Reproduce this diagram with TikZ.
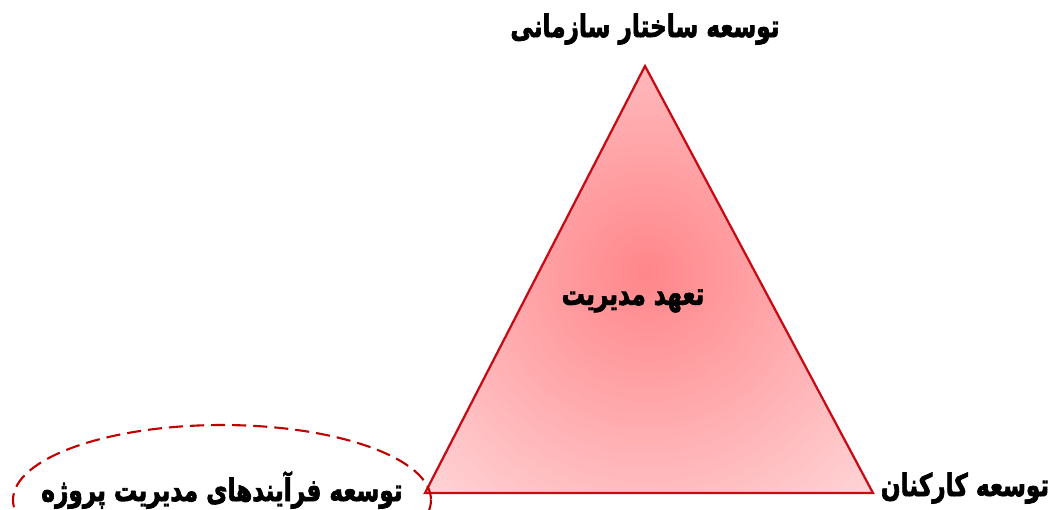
\documentclass[tikz,border=0pt]{standalone}
\usepackage{fontspec}
\newfontfamily\farsifont[Script=Arabic, BoldFeatures={FakeBold=2.6}]{DejaVu Sans}
\TeXXeTstate=1
\definecolor{edgered}{RGB}{200,10,20}
\definecolor{dashred}{RGB}{190,0,0}
\definecolor{coreRed}{RGB}{255,134,138}
\definecolor{rimRed}{RGB}{255,216,218}
\newcommand{\farsitext}[1]{\scalebox{0.97}[1.3]{\beginR #1\endR}}

\begin{document}
\begin{tikzpicture}[
    x=0.025cm, y=-0.025cm,
    label/.style={
      font=\farsifont\bfseries\fontsize{17}{20}\selectfont,
      inner sep=0pt
    },
    rim/.style={draw=edgered, line width=1.6pt, line join=miter},
    oval/.style={draw=dashred, line width=1.5pt, dash pattern=on 10pt off 5pt}
  ]
    \useasboundingbox (0,0) rectangle (1058,509);
    \coordinate (apex) at (645,66);
    \coordinate (left) at (425,493);
    \coordinate (right) at (873,493);
    \coordinate (core) at (647,272);

    % gradient fill
    \begin{scope}
      \clip (apex) -- (left) -- (right) -- cycle;
      \fill[rimRed] (apex) -- (left) -- (right) -- cycle;
      \shade[inner color=coreRed, outer color=rimRed] (core) circle (330);
    \end{scope}
    \draw[rim] (apex) -- (left) -- (right) -- cycle;

    \draw[oval] (222,500) ellipse (209 and 75);

    \node[label] (structure) at (645,29) {\farsitext{توسعه ساختار سازمانی}};
    \node[label] (commit) at (633,301) {\farsitext{تعهد مدیریت}};
    \node[label] (staff) at (965,488) {\farsitext{توسعه کارکنان}};
    \node[label] (process) at (222,490) {\farsitext{توسعه فرآیندهای مدیریت پروژه}};
  \end{tikzpicture}
\end{document}
